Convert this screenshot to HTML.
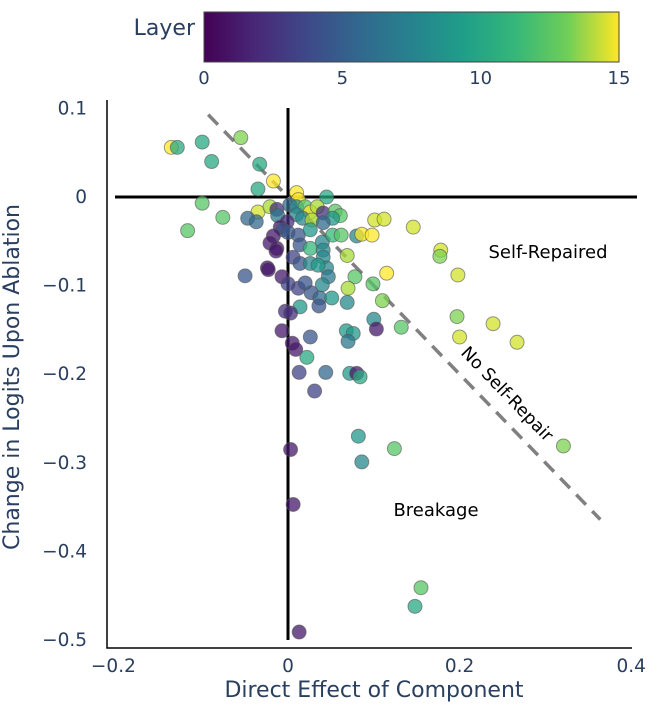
<!DOCTYPE html>
<html><head><meta charset="utf-8"><style>
body{margin:0;background:#fff;font-family:"Liberation Sans","DejaVu Sans",sans-serif}
svg text{font-family:"DejaVu Sans","Liberation Sans",sans-serif;fill:#2a3f5f}
</style></head><body>
<svg id="chart" width="665" height="715" xmlns="http://www.w3.org/2000/svg">
<defs><linearGradient id="vir" x1="0" x2="1" y1="0" y2="0">
<stop offset="0" stop-color="#440154"/><stop offset="0.125" stop-color="#482878"/><stop offset="0.25" stop-color="#3e4989"/><stop offset="0.375" stop-color="#31688e"/><stop offset="0.5" stop-color="#26828e"/><stop offset="0.625" stop-color="#1f9e89"/><stop offset="0.75" stop-color="#35b779"/><stop offset="0.875" stop-color="#6ece58"/><stop offset="1" stop-color="#fde725"/></linearGradient></defs>
<g id="cbar">
<text x="195" y="35" font-size="22" text-anchor="end">Layer</text>
<rect x="204" y="12" width="415" height="50" fill="url(#vir)" stroke="#444" stroke-width="1"/>
</g>
<g id="plot"></g>
</svg>
<script>
const xs=[-0.136,-0.129,-0.100,-0.055,-0.089,-0.033,-0.017,-0.035,0.010,0.012,0.045,0.002,-0.100,-0.076,-0.117,-0.035,-0.021,-0.047,-0.037,-0.013,-0.012,0.010,0.020,0.026,0.034,0.010,0.017,0.028,0.041,0.055,0.061,0.052,0.041,-0.001,-0.009,-0.006,0.000,-0.017,-0.021,-0.013,0.012,0.014,0.026,0.026,0.040,0.041,0.041,0.052,0.062,0.080,0.086,0.098,0.101,0.112,0.146,0.069,0.006,0.014,0.026,0.045,-0.024,0.115,0.178,0.177,0.198,-0.014,0.035,0.047,0.078,0.070,0.099,-0.050,-0.023,-0.007,0.000,0.012,0.020,0.027,0.040,0.037,0.051,0.069,0.110,0.014,0.036,-0.003,0.003,0.100,0.103,0.132,-0.007,0.026,0.068,0.076,0.070,0.005,0.009,0.022,0.013,0.044,0.072,0.080,0.084,0.031,0.197,0.200,0.239,0.267,0.321,0.082,0.086,0.124,0.155,0.148,0.013,0.006,0.003];
const ys=[0.056,0.056,0.062,0.067,0.040,0.037,0.018,0.009,0.005,-0.003,0.000,-0.009,-0.007,-0.023,-0.038,-0.017,-0.011,-0.024,-0.028,-0.014,-0.021,-0.011,-0.011,-0.017,-0.011,-0.020,-0.024,-0.026,-0.018,-0.016,-0.021,-0.024,-0.029,-0.028,-0.034,-0.037,-0.040,-0.044,-0.052,-0.058,-0.043,-0.054,-0.037,-0.058,-0.051,-0.060,-0.068,-0.043,-0.043,-0.044,-0.042,-0.043,-0.026,-0.025,-0.034,-0.066,-0.068,-0.075,-0.075,-0.080,-0.080,-0.086,-0.060,-0.067,-0.088,-0.061,-0.077,-0.090,-0.090,-0.103,-0.098,-0.089,-0.082,-0.090,-0.098,-0.103,-0.097,-0.108,-0.099,-0.114,-0.114,-0.119,-0.117,-0.124,-0.123,-0.129,-0.131,-0.138,-0.149,-0.147,-0.151,-0.158,-0.151,-0.154,-0.163,-0.165,-0.172,-0.181,-0.198,-0.198,-0.199,-0.199,-0.203,-0.219,-0.135,-0.158,-0.143,-0.164,-0.281,-0.270,-0.299,-0.284,-0.441,-0.462,-0.491,-0.347,-0.285];
const layers=[15,9,9,12,9,9,15,9,15,15,9,5,11,11,11,14,13,5,5,2,6,7,11,15,13,7,7,13,2,11,11,8,5,2,1,4,4,1,1,1,4,4,8,10,7,7,7,10,11,7,15,15,14,14,14,13,3,4,7,7,1,15,14,12,14,1,8,6,11,13,11,4,1,1,3,3,4,4,7,5,8,7,12,8,4,2,2,7,1,11,1,4,8,8,6,1,1,9,3,5,8,1,9,3,12,14,14,14,12,8,7,11,11,9,1,1,1];
const xTicks=[-0.2,0,0.2,0.4], xTickLabels=["\u22120.2","0","0.2","0.4"];
const yTicks=[0.1,0,-0.1,-0.2,-0.3,-0.4,-0.5], yTickLabels=["0.1","0","\u22120.1","\u22120.2","\u22120.3","\u22120.4","\u22120.5"];
const cTicks=[0,5,10,15];
const NS="http://www.w3.org/2000/svg";
const X=v=>288+v*858, Y=v=>197-v*886, C=v=>204+v*(415/15);
const vir=[[68,1,84],[72,40,120],[62,73,137],[49,104,142],[38,130,142],[31,158,137],[53,183,121],[110,206,88],[181,222,43],[253,231,37]];
function col(l){const t=l/15*(vir.length-1),i=Math.min(Math.floor(t),vir.length-2),f=t-i;const c=vir[i].map((a,k)=>Math.round(a+(vir[i+1][k]-a)*f));return `rgb(${c})`;}
const g=document.getElementById('plot'), svg=document.getElementById('chart');
function mk(t,a,p){const e=document.createElementNS(NS,t);for(const k in a)e.setAttribute(k,a[k]);(p||g).appendChild(e);return e;}
let e;
cTicks.forEach(t=>{e=mk('text',{x:C(t),y:84,'font-size':18,'text-anchor':'middle'},svg);e.textContent=t;

});
e=mk('path',{d:'M107 100 V648 H632',fill:'none',stroke:'#000','stroke-width':1.5});


xTicks.forEach((t,i)=>{e=mk('text',{x:X(t)+(i==0?-3:0),y:672,'font-size':18.5,'text-anchor':'middle'});e.textContent=xTickLabels[i];

});
yTicks.forEach((t,i)=>{e=mk('text',{x:87,y:Y(t)+6,'font-size':18.5,'text-anchor':'end'});e.textContent=yTickLabels[i];

});
e=mk('line',{x1:115,x2:637,y1:Y(0),y2:Y(0),stroke:'#000','stroke-width':3});


e=mk('line',{x1:X(0),x2:X(0),y1:108,y2:Y(-0.5),stroke:'#000','stroke-width':3});


e=mk('line',{x1:X(-0.093),y1:Y(0.093),x2:X(0.364),y2:Y(-0.364),stroke:'#808080','stroke-width':3.5,'stroke-dasharray':'14 9'});


xs.forEach((x,i)=>{e=mk('circle',{cx:X(x),cy:Y(ys[i]),r:7,fill:col(layers[i]),'fill-opacity':0.75,stroke:'#555','stroke-opacity':0.6,'stroke-width':1});

});
e=mk('text',{x:548,y:258,'font-size':18,'text-anchor':'middle',style:'fill:#000'});e.textContent='Self-Repaired';


e=mk('text',{x:436,y:516,'font-size':18,'text-anchor':'middle',style:'fill:#000'});e.textContent='Breakage';


e=mk('text',{x:0,y:0,'font-size':17.5,'text-anchor':'middle',style:'fill:#000',transform:'translate(503,398) rotate(46)'});e.textContent='No Self-Repair';


e=mk('text',{x:374,y:697,'font-size':22,'text-anchor':'middle'});e.textContent='Direct Effect of Component';


e=mk('text',{x:0,y:0,'font-size':22,'text-anchor':'middle',transform:'translate(19,377) rotate(-90)'});e.textContent='Change in Logits Upon Ablation';


</script>
</body></html>
